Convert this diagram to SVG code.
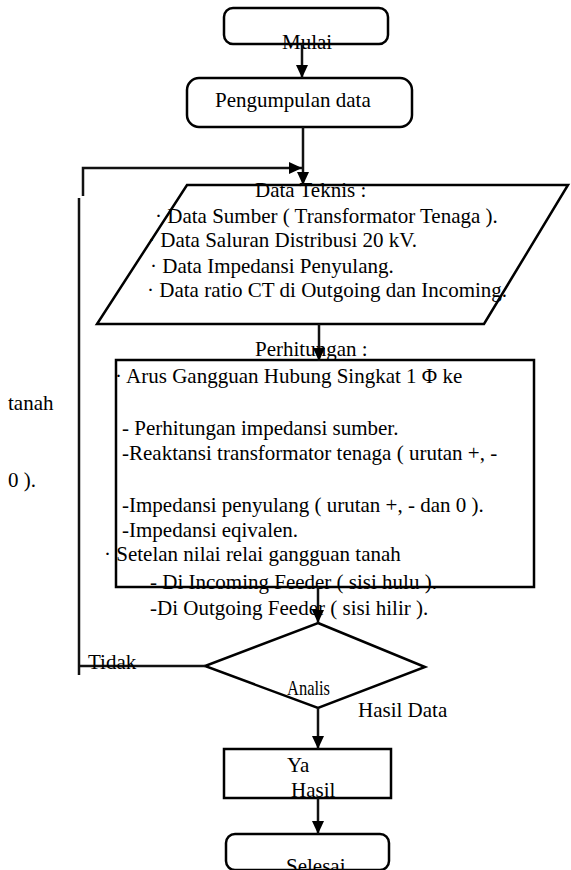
<svg xmlns="http://www.w3.org/2000/svg" width="571" height="870" viewBox="0 0 571 870">
<style>
.s{fill:#fff;stroke:#000;stroke-width:2.5}
.t{font-family:"Liberation Serif","Times New Roman",serif;font-size:21px;fill:#000}
.c{fill:none;stroke:#111;stroke-width:2.5}
</style>
<defs>
<marker id="a" markerWidth="10" markerHeight="10" refX="9" refY="5" orient="auto" markerUnits="userSpaceOnUse">
<path d="M0,0 L10,5 L0,10 Z" fill="#000"/>
</marker>
<marker id="b" markerWidth="14" markerHeight="14" refX="13" refY="7" orient="auto" markerUnits="userSpaceOnUse">
<path d="M0,1 L13,7 L0,13 Z" fill="#000"/>
</marker>
</defs>
<rect width="571" height="870" fill="#fff"/>
<g id="mulai">
<rect class="s" x="224" y="8" width="164" height="36" rx="9"/>
<text class="t" x="282" y="49">Mulai</text>
</g>
<g id="pengumpulan">
<rect class="s" x="187" y="78" width="225" height="49" rx="12"/>
<text class="t" x="215" y="107">Pengumpulan data</text>
</g>
<g id="data-teknis">
<polygon class="s" points="187,185 568,185 484,324 97,324"/>
<text class="t" x="255" y="197">Data Teknis :</text>
<text class="t" x="155" y="223">· Data Sumber ( Transformator Tenaga ).</text>
<text class="t" x="148" y="247">· Data Saluran Distribusi 20 kV.</text>
<text class="t" x="150" y="273">· Data Impedansi Penyulang.</text>
<text class="t" x="147" y="297">· Data ratio CT di Outgoing dan Incoming.</text>
</g>
<g id="perhitungan">
<rect class="s" x="116" y="360" width="418" height="227"/>
<text class="t" x="255" y="356">Perhitungan :</text>
<text class="t" x="115" y="383">· Arus Gangguan Hubung Singkat 1 Φ ke</text>
<text class="t" x="8" y="410">tanah</text>
<text class="t" x="122" y="435">- Perhitungan impedansi sumber.</text>
<text class="t" x="122" y="460">-Reaktansi transformator tenaga ( urutan +, -</text>
<text class="t" x="8" y="487">0 ).</text>
<text class="t" x="122" y="512">-Impedansi penyulang ( urutan +, - dan 0 ).</text>
<text class="t" x="122" y="537">-Impedansi eqivalen.</text>
<text class="t" x="104" y="561">· Setelan nilai relai gangguan tanah</text>
<text class="t" x="150" y="589">- Di Incoming Feeder ( sisi hulu ).</text>
<text class="t" x="150" y="615">-Di Outgoing Feeder ( sisi hilir ).</text>
</g>
<g id="analis">
<polygon class="s" points="318,623 425,667 318,708 205,666"/>
<text class="t" x="287" y="695" textLength="43" lengthAdjust="spacingAndGlyphs">Analis</text>
<text class="t" x="358" y="717">Hasil Data</text>
</g>
<g id="hasil">
<rect class="s" x="224" y="749" width="167" height="49"/>
<text class="t" x="287" y="772">Ya</text>
<text class="t" x="291" y="797">Hasil</text>
</g>
<g id="selesai">
<rect class="s" x="226" y="834" width="163" height="36" rx="9"/>
<text class="t" x="286" y="873">Selesai</text>
</g>
<g id="connectors">
<line class="c" x1="302" y1="44" x2="302" y2="78" marker-end="url(#b)"/>
<line class="c" x1="303" y1="127" x2="303" y2="185" marker-end="url(#b)"/>
<polyline class="c" points="83,196 83,168 302,168" marker-end="url(#b)"/>
<line class="c" x1="319" y1="324" x2="319" y2="361" marker-end="url(#b)"/>
<line class="c" x1="318" y1="587" x2="318" y2="623" marker-end="url(#b)"/>
<line class="c" x1="318" y1="708" x2="318" y2="749" marker-end="url(#b)"/>
<line class="c" x1="318" y1="798" x2="318" y2="834" marker-end="url(#b)"/>
<line class="c" x1="79" y1="198" x2="79" y2="675"/>
<line class="c" x1="79" y1="666" x2="205" y2="666"/>
<text class="t" x="88" y="669">Tidak</text>
</g>
</svg>
